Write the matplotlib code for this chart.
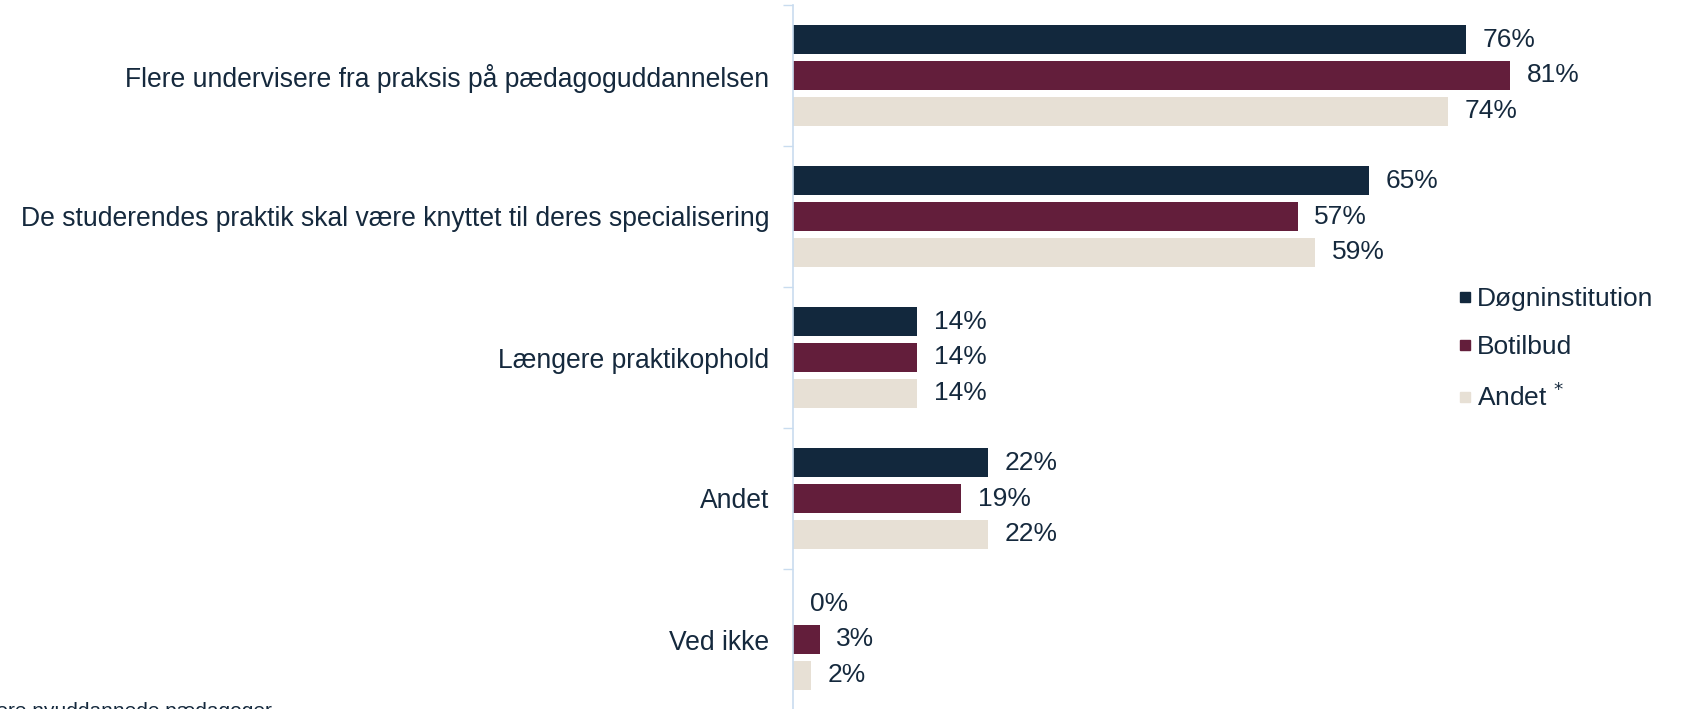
import numpy as np
import matplotlib.pyplot as plt
from matplotlib.lines import Line2D

plt.rcParams['font.family'] = ['Liberation Sans', 'DejaVu Sans']

# Data
categories = [
    "Flere undervisere fra praksis på pædagoguddannelsen",
    "De studerendes praktik skal være knyttet til deres specialisering",
    "Længere praktikophold",
    "Andet",
    "Ved ikke",
]
series_names = ["Døgninstitution", "Botilbud", "Andet $^{*}$"]
dogn = [76, 65, 14, 22, 0]
botilbud = [81, 57, 14, 19, 3]
andet = [74, 59, 14, 22, 2]
footnote = "Flere nyuddannede pædagoger"

colors = ["#12283d", "#631e3b", "#e7e0d5"]
text_col = "#15293d"
axis_col = "#c9dcef"

W, H = 1683, 709
fig = plt.figure(figsize=(W / 100, H / 100), dpi=100)
ax = fig.add_axes([793 / W, -1 / H, 890 / W, 705 / H])

y = np.arange(len(categories))
offsets = [-0.2525, 0, 0.2525]
bar_h = 0.205
for vals, off, col in zip([dogn, botilbud, andet], offsets, colors):
    ax.barh(y + off, vals, height=bar_h, color=col)
    for yi, v in zip(y, vals):
        ax.annotate(f"{v}%", (v, yi + off), xytext=(12, 0), textcoords="offset points",
                    ha="left", va="center", fontsize=19, color=text_col)

ax.set_xlim(0, 100.5)
ax.set_ylim(len(categories) - 0.5, -0.5)
ax.set_yticks(y)
ax.set_yticklabels(categories, fontsize=19.1, color=text_col)
ax.tick_params(axis="y", which="major", length=0, pad=17)
ax.set_yticks(np.arange(-0.5, len(categories), 1.0), minor=True)
ax.tick_params(axis="y", which="minor", length=7, width=1, color=axis_col)
ax.set_xticks([])
for s in ["top", "right", "bottom"]:
    ax.spines[s].set_visible(False)
ax.spines["left"].set_color(axis_col)
ax.spines["left"].set_linewidth(1.2)

handles = [Line2D([], [], marker="s", linestyle="none", markersize=6.5,
                  markerfacecolor=c, markeredgecolor=c) for c in colors]
fig.legend(handles, series_names, loc="center left",
           bbox_to_anchor=(1457 / W, (H - 349) / H), frameon=False,
           fontsize=19, labelcolor=text_col, handlelength=0.6,
           handletextpad=0.15, labelspacing=0.9, borderpad=0, borderaxespad=0)

fig.text(272 / W, (H - 702) / H, footnote, ha="right", va="top",
         fontsize=15, color=text_col)

fig.savefig("out.png", dpi=100)
